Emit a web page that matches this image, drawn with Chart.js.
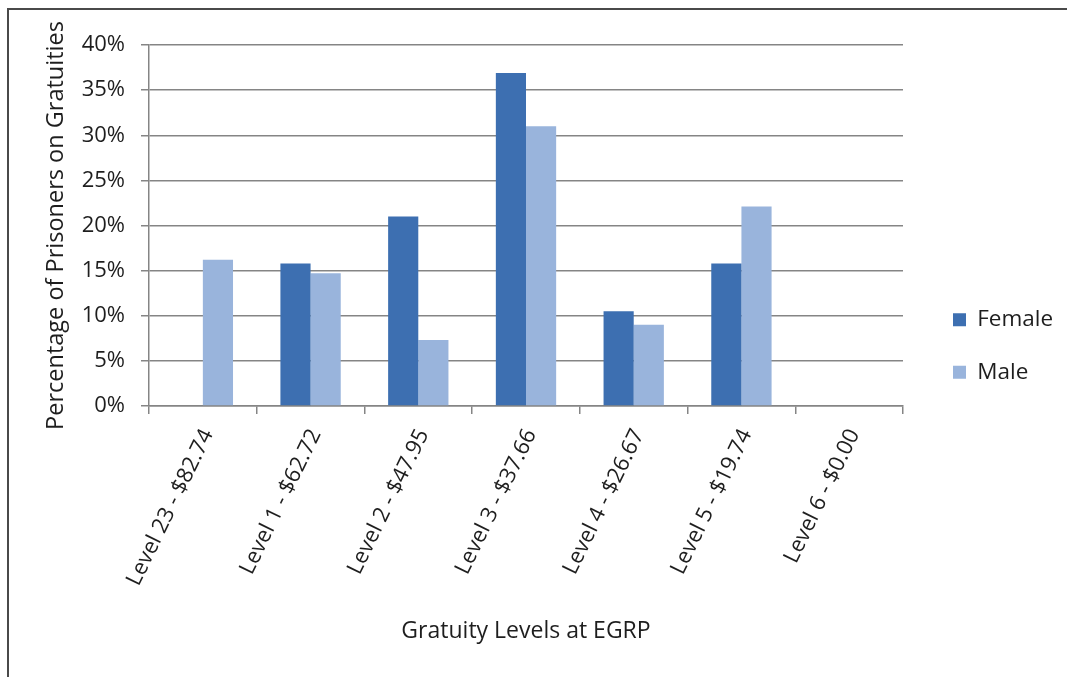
<!DOCTYPE html>
<html>
<head>
<meta charset="utf-8">
<title>Gratuity Levels at EGRP</title>
<script src="https://cdn.jsdelivr.net/npm/chart.js@4.4.1/dist/chart.umd.min.js"></script>
<style>
  html, body { margin: 0; padding: 0; background: #fff; }
  #wrap { position: relative; width: 1067px; height: 677px; overflow: hidden; }
  #frame {
    position: absolute; left: 7px; top: 8px; width: 1100px; height: 700px;
    border-top: 2px solid #4a4a4a; border-left: 2px solid #4a4a4a; pointer-events: none;
  }
  #chart { position: absolute; left: 0; top: 0; }
</style>
</head>
<body>
<div id="wrap">
  <canvas id="chart" width="1067" height="677"></canvas>
  <div id="frame"></div>
</div>
<script>
// data (percent of prisoners)
const categories = [
  'Level 23 - $82.74',
  'Level 1 - $62.72',
  'Level 2 - $47.95',
  'Level 3 - $37.66',
  'Level 4 - $26.67',
  'Level 5 - $19.74',
  'Level 6 - $0.00'
];
const femaleValues = [0, 15.8, 21.0, 36.9, 10.5, 15.8, 0];
const maleValues = [16.2, 14.7, 7.3, 31.0, 9.0, 22.1, 0];
const yTickValues = [0, 5, 10, 15, 20, 25, 30, 35, 40];

// layout
const W = 1067, H = 677;
const PLOT_LEFT = 149, PLOT_RIGHT = 902, PLOT_BOTTOM = 406;
const PAD_LEFT = 38, PAD_TOP = 45, PAD_BOTTOM = 30;
const FONT = '"Open Sans", "DejaVu Sans", sans-serif';
const TEXT = '#1e1e1e';
const GRID = '#858585';

const legendFontSize = 22.5;
const legendPad = 30;
const legendBox = 13;
const legendBoxX = 952;

// work out how wide the legend will be, so the plot ends at PLOT_RIGHT
const mctx = document.createElement('canvas').getContext('2d');
mctx.font = legendFontSize + 'px ' + FONT;
const legendTextW = Math.max(mctx.measureText('Female').width, mctx.measureText('Male').width);
const legendW = legendPad + legendBox + legendFontSize / 2 + legendTextW;
const gapW = legendBoxX - legendPad - PLOT_RIGHT;
const PAD_RIGHT = W - PLOT_RIGHT - gapW - legendW - 11;

const ctx = document.getElementById('chart').getContext('2d');

new Chart(ctx, {
  type: 'bar',
  data: {
    labels: categories,
    datasets: [
      {
        label: 'Female',
        data: femaleValues,
        backgroundColor: '#3d6fb1',
        borderWidth: 0,
        barPercentage: 1,
        categoryPercentage: 0.56
      },
      {
        label: 'Male',
        data: maleValues,
        backgroundColor: '#99b4dc',
        borderWidth: 0,
        barPercentage: 1,
        categoryPercentage: 0.56
      }
    ]
  },
  options: {
    responsive: false,
    animation: false,
    layout: {
      padding: { left: PAD_LEFT, top: PAD_TOP, right: PAD_RIGHT, bottom: PAD_BOTTOM }
    },
    scales: {
      x: {
        grid: {
          display: true,
          drawOnChartArea: false,
          drawTicks: true,
          tickLength: 8,
          color: GRID,
          lineWidth: 1.5,
          offset: true
        },
        border: { display: true, color: GRID, width: 1.5 },
        ticks: {
          color: TEXT,
          font: { family: FONT, size: 22 },
          minRotation: 64,
          maxRotation: 64,
          autoSkip: false,
          labelOffset: 5,
          padding: 11
        },
        title: {
          display: true,
          text: 'Gratuity Levels at EGRP',
          color: TEXT,
          font: { family: FONT, size: 23 },
          padding: { top: 4, bottom: 2 }
        },
        afterFit: (scale) => { scale.height = H - PAD_BOTTOM - PLOT_BOTTOM; }
      },
      y: {
        min: 0,
        max: 40,
        afterBuildTicks: (scale) => { scale.ticks = yTickValues.map(v => ({ value: v })); },
        grid: {
          color: GRID,
          lineWidth: 1.5,
          drawTicks: true,
          tickLength: 8
        },
        border: { display: true, color: GRID, width: 1.5 },
        ticks: {
          color: TEXT,
          font: { family: FONT, size: 22 },
          padding: 16,
          callback: (v) => v + '%'
        },
        title: {
          display: true,
          text: 'Percentage of Prisoners on Gratuities',
          color: TEXT,
          font: { family: FONT, size: 23.5 },
          padding: { top: 4, bottom: 4 }
        },
        afterFit: (scale) => { scale.width = PLOT_LEFT - PAD_LEFT; }
      },
      // empty right-hand axis, only used as a gap before the legend
      gap: {
        type: 'linear',
        position: 'right',
        display: true,
        grid: { display: false, drawTicks: false },
        border: { display: false },
        ticks: { display: false },
        afterFit: (scale) => { scale.width = gapW; }
      }
    },
    plugins: {
      legend: {
        display: true,
        position: 'right',
        align: 'center',
        labels: {
          color: TEXT,
          boxWidth: legendBox,
          boxHeight: legendBox,
          padding: legendPad,
          font: { family: FONT, size: legendFontSize }
        }
      },
      tooltip: { enabled: false }
    }
  }
});
</script>
</body>
</html>
